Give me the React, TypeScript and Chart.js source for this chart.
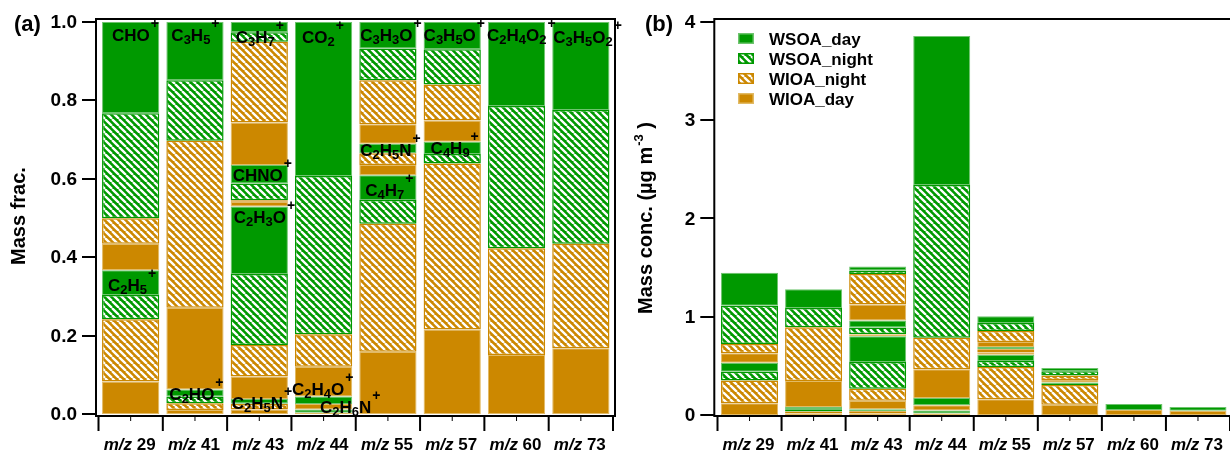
import React, { useEffect, useRef } from "react";
import { Chart, registerables } from "chart.js";

Chart.register(...registerables);

// ---------------- DATA ----------------
const mzLabels = ["29", "41", "43", "44", "55", "57", "60", "73"];

// ions stacked from bottom to top for each m/z
const ionNames = [
  ["C2H5+", "CHO+"],
  ["C2HO+", "C3H5+"],
  ["C2H5N+", "C2H3O+", "CHNO+", "C3H7+"],
  ["C2H6N+", "C2H4O+", "CO2+"],
  ["C4H7+", "C2H5N+", "C3H3O+"],
  ["C4H9+", "C3H5O+"],
  ["C2H4O2+"],
  ["C3H5O2+"],
];

// panel (a): mass fraction, per m/z, per ion
const fracWIOAday = [[0.083, 0.067], [0.011, 0.208], [0.012, 0.057, 0.012, 0.108], [0.004, 0.014, 0.076], [0.159, 0.026, 0.05], [0.216, 0.054], [0.151], [0.168]];
const fracWIOAnight = [[0.159, 0.065], [0.017, 0.426], [0.014, 0.08, 0.004, 0.206], [0, 0, 0.083], [0.326, 0.03, 0.112], [0.423, 0.092], [0.272], [0.266]];
const fracWSOAnight = [[0.062, 0.268], [0.017, 0.154], [0.001, 0.181, 0.043, 0.024], [0, 0, 0.403], [0.061, 0, 0.081], [0.024, 0.09], [0.362], [0.341]];
const fracWSOAday = [[0.063, 0.233], [0.018, 0.149], [0.012, 0.172, 0.047, 0.027], [0.008, 0.019, 0.393], [0.063, 0.024, 0.068], [0.031, 0.07], [0.215], [0.225]];

// panel (b): mass concentration (ug m-3), per m/z, per ion
const concWIOAday = [[0.12, 0.097], [0.014, 0.266], [0.018, 0.086, 0.018, 0.163], [0.015, 0.054, 0.293], [0.16, 0.026, 0.05], [0.103, 0.026], [0.052], [0.044]];
const concWIOAnight = [[0.23, 0.094], [0.022, 0.545], [0.021, 0.121, 0.006, 0.311], [0, 0, 0.32], [0.328, 0.03, 0.113], [0.202, 0.044], [0], [0]];
const concWSOAnight = [[0.09, 0.388], [0.022, 0.197], [0.002, 0.274, 0.065, 0.036], [0, 0, 1.554], [0.061, 0, 0.081], [0.011, 0.043], [0], [0]];
const concWSOAday = [[0.091, 0.337], [0.023, 0.191], [0.018, 0.26, 0.071, 0.041], [0.031, 0.073, 1.515], [0.063, 0.024, 0.068], [0.015, 0.033], [0.06], [0.037]];

const fracTicks = [0, 0.2, 0.4, 0.6, 0.8, 1.0];
const concTicks = [0, 1, 2, 3, 4];
const componentNames = ["WIOA_day", "WIOA_night", "WSOA_night", "WSOA_day"];
const legendOrder = [3, 2, 1, 0];

// label placement (pixels): [dx from bar left, dy from ion top to text middle]
const ionLabelOffsets = [
  [[6, 15], [10, 13]],
  [[3, 5], [5, 13]],
  [[1, 4], [3, 10], [2, 10], [5, 15]],
  [[25, -2], [-3, -8], [7, 15]],
  [[6, 15], [1, 6], [1, 13]],
  [[7, 6], [0, 13]],
  [[-1, 13]],
  [[1, 15]],
];

// ---------------- STYLE ----------------
const FF = 'Arial, "Liberation Sans", Helvetica, sans-serif';
const GREEN = "rgb(0,153,0)";
const ORANGE = "rgb(204,136,0)";
const GREEN_EDGE = "rgb(110,196,110)";
const ORANGE_EDGE = "rgb(226,186,100)";
const W = 1230;
const H = 454;
const SPLIT = 625;

type Part = { t: string; font: string; dy?: number; dx?: number };

function drawParts(ctx: CanvasRenderingContext2D, parts: Part[], x: number, y: number, align: string = "left") {
  let total = 0;
  const ws: number[] = [];
  for (const p of parts) {
    ctx.font = p.font;
    const w = ctx.measureText(p.t).width;
    ws.push(w);
    total += w + (p.dx || 0);
  }
  let cx = align === "center" ? x - total / 2 : align === "right" ? x - total : x;
  ctx.textAlign = "left";
  ctx.textBaseline = "alphabetic";
  parts.forEach((p, k) => {
    ctx.font = p.font;
    cx += p.dx || 0;
    ctx.fillText(p.t, cx, y + (p.dy || 0));
    cx += ws[k];
  });
}

function formulaParts(s: string): Part[] {
  const parts: Part[] = [];
  for (const ch of s) {
    if (/[0-9]/.test(ch)) parts.push({ t: ch, font: `bold 13px ${FF}`, dy: 3 });
    else if (ch === "+") parts.push({ t: "+", font: `bold 14px ${FF}`, dy: -13, dx: 1 });
    else parts.push({ t: ch, font: `bold 17px ${FF}` });
  }
  return parts;
}

function makeHatch(ctx: CanvasRenderingContext2D, color: string) {
  const P = 7;
  const c = document.createElement("canvas");
  c.width = P;
  c.height = P;
  const g = c.getContext("2d")!;
  g.fillStyle = color;
  g.fillRect(0, 0, P, P);
  g.strokeStyle = "#ffffff";
  g.lineWidth = 2.3;
  g.beginPath();
  for (let k = -1; k <= 1; k++) {
    g.moveTo(k * P, 0);
    g.lineTo(k * P + P, P);
  }
  g.stroke();
  return ctx.createPattern(c, "repeat")!;
}

function componentStyles(ctx: CanvasRenderingContext2D) {
  const hatchG = makeHatch(ctx, GREEN);
  const hatchO = makeHatch(ctx, ORANGE);
  return [
    { bg: ORANGE as any, bc: ORANGE_EDGE, bw: 1 },
    { bg: hatchO as any, bc: ORANGE, bw: 1.5 },
    { bg: hatchG as any, bc: GREEN, bw: 1.5 },
    { bg: GREEN as any, bc: GREEN_EDGE, bw: 1 },
  ];
}

function buildDatasets(ctx: CanvasRenderingContext2D, arrays: number[][][]) {
  const styles = componentStyles(ctx);
  const ds: any[] = [];
  for (let L = 0; L < 4; L++) {
    for (let c = 0; c < 4; c++) {
      const data = mzLabels.map((_, i) => {
        const v = arrays[c][i][L];
        return v ? v : null;
      });
      if (data.every((v) => v === null)) continue;
      ds.push({
        label: `${componentNames[c]} ${L}`,
        data,
        backgroundColor: styles[c].bg,
        borderColor: styles[c].bc,
        borderWidth: styles[c].bw,
        borderSkipped: false,
        barPercentage: 0.89,
        categoryPercentage: 1.0,
        stack: "s",
      });
    }
  }
  return ds;
}

function ionTop(arrays: number[][][], i: number, L: number) {
  let s = 0;
  for (let l = 0; l <= L; l++) for (let c = 0; c < 4; c++) s += arrays[c][i][l] || 0;
  return s;
}

function drawXAxisDecor(ctx: CanvasRenderingContext2D, chart: any, axisY: number) {
  const x = chart.scales.x;
  const n = mzLabels.length;
  const cw = x.width / n;
  ctx.strokeStyle = "#000";
  ctx.lineWidth = 2;
  ctx.beginPath();
  for (let i = 0; i <= n; i++) {
    const px = x.left + i * cw;
    ctx.moveTo(px, axisY);
    ctx.lineTo(px, axisY + 15);
  }
  ctx.stroke();
  ctx.lineWidth = 1;
  ctx.beginPath();
  for (let i = 0; i < n; i++) {
    const px = x.getPixelForValue(i);
    ctx.moveTo(px, axisY);
    ctx.lineTo(px, axisY + 5);
  }
  ctx.stroke();
  ctx.fillStyle = "#000";
  mzLabels.forEach((m, i) => {
    const px = x.getPixelForValue(i);
    drawParts(ctx, [
      { t: "m/z", font: `italic bold 17px ${FF}` },
      { t: " " + m, font: `bold 17px ${FF}` },
    ], px - 1, 450, "center");
  });
}

function drawYAxisDecor(ctx: CanvasRenderingContext2D, chart: any, ticks: number[], axisX: number, fmt: (v: number) => string) {
  const y = chart.scales.y;
  ctx.strokeStyle = "#000";
  ctx.lineWidth = 2;
  ctx.beginPath();
  for (const v of ticks) {
    const py = Math.round(y.getPixelForValue(v));
    ctx.moveTo(axisX - 14, py);
    ctx.lineTo(axisX, py);
  }
  ctx.stroke();
  ctx.fillStyle = "#000";
  ctx.font = `bold 19px ${FF}`;
  ctx.textAlign = "right";
  ctx.textBaseline = "middle";
  for (const v of ticks) {
    const py = y.getPixelForValue(v);
    ctx.fillText(fmt(v), axisX - 19, py + 1);
  }
}

function drawRotated(ctx: CanvasRenderingContext2D, parts: Part[], cx: number, cy: number) {
  ctx.save();
  ctx.translate(cx, cy);
  ctx.rotate(-Math.PI / 2);
  drawParts(ctx, parts, 0, 7, "center");
  ctx.restore();
}

function App() {
  const refA = useRef<HTMLCanvasElement | null>(null);
  const refB = useRef<HTMLCanvasElement | null>(null);

  useEffect(() => {
    const fracArrays = [fracWIOAday, fracWIOAnight, fracWSOAnight, fracWSOAday];
    const concArrays = [concWIOAday, concWIOAnight, concWSOAnight, concWSOAday];
    const ctxA = refA.current!.getContext("2d")!;
    const ctxB = refB.current!.getContext("2d")!;

    const chartA = new Chart(refA.current!, {
      type: "bar",
      data: { labels: mzLabels.map((m) => "m/z " + m), datasets: buildDatasets(ctxA, fracArrays) },
      options: {
        animation: false,
        responsive: false,
        events: [],
        layout: { padding: { left: 98.5, right: SPLIT - 613, top: 21.7, bottom: H - 414.2 } },
        plugins: { legend: { display: false }, tooltip: { enabled: false } },
        scales: {
          x: { stacked: true, display: false },
          y: { stacked: true, display: false, min: 0, max: 1 },
        },
      },
      plugins: [
        {
          id: "decoA",
          afterDraw(chart: any) {
            const ctx = chart.ctx as CanvasRenderingContext2D;
            const x = chart.scales.x;
            const y = chart.scales.y;
            ctx.save();
            ctx.strokeStyle = "#000";
            ctx.lineWidth = 2;
            ctx.strokeRect(96, 19, 615 - 96, 416 - 19);
            drawYAxisDecor(ctx, chart, fracTicks, 96, (v) => v.toFixed(1));
            drawXAxisDecor(ctx, chart, 416);
            // ion labels
            const barW = (x.width / mzLabels.length) * 0.89;
            ctx.fillStyle = "#000";
            ionNames.forEach((names, i) => {
              const left = x.getPixelForValue(i) - barW / 2;
              names.forEach((nm, L) => {
                const top = y.getPixelForValue(ionTop(fracArrays, i, L));
                const [dx, dy] = ionLabelOffsets[i][L];
                drawParts(ctx, formulaParts(nm), left + dx, top + dy + 6, "left");
              });
            });
            // titles
            ctx.fillStyle = "#000";
            drawParts(ctx, [{ t: "(a)", font: `bold 22px ${FF}` }], 14, 31, "left");
            drawRotated(ctx, [{ t: "Mass frac.", font: `bold 20px ${FF}` }], 18, 216);
            ctx.restore();
          },
        },
      ],
    });

    const OX = SPLIT;
    const chartB = new Chart(refB.current!, {
      type: "bar",
      data: { labels: mzLabels.map((m) => "m/z " + m), datasets: buildDatasets(ctxB, concArrays) },
      options: {
        animation: false,
        responsive: false,
        events: [],
        layout: { padding: { left: 717.5 - OX, right: 0, top: 21.7, bottom: H - 415 } },
        plugins: { legend: { display: false }, tooltip: { enabled: false } },
        scales: {
          x: { stacked: true, display: false },
          y: { stacked: true, display: false, min: 0, max: 4 },
        },
      },
      plugins: [
        {
          id: "decoB",
          afterDraw(chart: any) {
            const ctx = chart.ctx as CanvasRenderingContext2D;
            const ax = 714.3 - OX;
            ctx.save();
            ctx.strokeStyle = "#000";
            ctx.lineWidth = 2;
            ctx.beginPath();
            ctx.moveTo(W - OX, 19);
            ctx.lineTo(ax, 19);
            ctx.lineTo(ax, 416);
            ctx.lineTo(W - OX, 416);
            ctx.stroke();
            drawYAxisDecor(ctx, chart, concTicks, ax, (v) => String(v));
            drawXAxisDecor(ctx, chart, 416);
            // legend
            const styles = componentStyles(ctx);
            const rowsY = [38.5, 58.5, 78.5, 98.5];
            legendOrder.forEach((c, r) => {
              const yy = rowsY[r];
              ctx.fillStyle = styles[c].bc;
              ctx.fillRect(738 - OX, yy - 5.5, 16, 11);
              ctx.fillStyle = styles[c].bg;
              ctx.fillRect(739.5 - OX, yy - 4, 13, 8);
              ctx.fillStyle = "#000";
              drawParts(ctx, [{ t: componentNames[c], font: `bold 17px ${FF}` }], 769 - OX, yy + 6, "left");
            });
            ctx.fillStyle = "#000";
            drawParts(ctx, [{ t: "(b)", font: `bold 22px ${FF}` }], 645 - OX, 31, "left");
            drawRotated(ctx, [
              { t: "Mass conc. (µg m", font: `bold 20px ${FF}` },
              { t: "-3", font: `bold 13px ${FF}`, dy: -9, dx: 1 },
              { t: " )", font: `bold 20px ${FF}` },
            ], 645 - OX, 218);
            ctx.restore();
          },
        },
      ],
    });

    return () => {
      chartA.destroy();
      chartB.destroy();
    };
  }, []);

  return (
    <div style={{ position: "absolute", left: 0, top: 0, width: W, height: H, background: "#fff", overflow: "hidden" }}>
      <canvas ref={refA} width={SPLIT} height={H} style={{ position: "absolute", left: 0, top: 0, width: SPLIT, height: H, display: "block" }} />
      <canvas ref={refB} width={W - SPLIT} height={H} style={{ position: "absolute", left: SPLIT, top: 0, width: W - SPLIT, height: H, display: "block" }} />
    </div>
  );
}

export default App;
